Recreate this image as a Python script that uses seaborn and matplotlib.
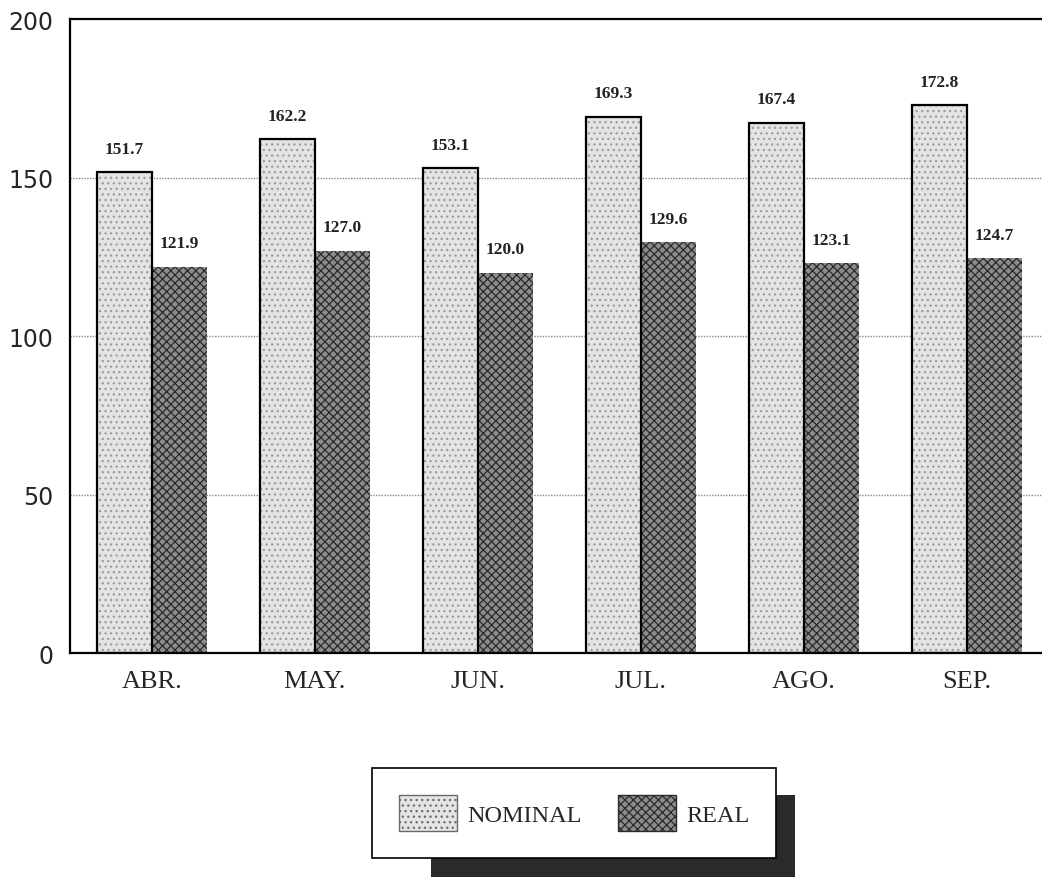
import pandas as pd
import matplotlib.pyplot as plt
import matplotlib.patches as mpatches
import seaborn as sns

months = ['ABR.', 'MAY.', 'JUN.', 'JUL.', 'AGO.', 'SEP.']
nominal = [151.7, 162.2, 153.1, 169.3, 167.4, 172.8]
real = [121.9, 127.0, 120.0, 129.6, 123.1, 124.7]
series = ['NOMINAL', 'REAL']

df = pd.DataFrame({'Mes': months * 2,
                   'Valor': nominal + real,
                   'Serie': ['NOMINAL'] * len(months) + ['REAL'] * len(months)})

sns.set_style('white')
plt.rcParams['hatch.linewidth'] = 0.9

fig = plt.figure(figsize=(10.42, 8.78), dpi=100)
ax = fig.add_axes([0.067, 0.255, 0.933, 0.722])

sns.barplot(data=df, x='Mes', y='Valor', hue='Serie', order=months, hue_order=series,
            palette=['#e4e4e4', '#8c8c8c'], width=0.675, saturation=1, legend=False, ax=ax)

# texturas: puntos para nominal, trama cruzada para real
for cont, hatch, hc in zip(ax.containers, ['...', 'xxxx'], ['#9c9c9c', '#2a2a2a']):
    for bar in cont:
        bar.set_hatch(hatch)
        bar.set_edgecolor(hc)
        bar.set_linewidth(0)
for bar in ax.containers[0]:
    ax.add_patch(mpatches.Rectangle(bar.get_xy(), bar.get_width(), bar.get_height(),
                                    fill=False, edgecolor='black', linewidth=1.6, zorder=3))

for cont in ax.containers:
    ax.bar_label(cont, fmt='%.1f', padding=11, fontsize=12.5, family='Liberation Serif',
                 fontweight='bold', color='#222222')

ax.set_ylim(0, 200)
ax.set_xlim(-0.503, 5.46)
ax.set_yticks([0, 50, 100, 150, 200])
ax.set_yticklabels(['0', '50', '100', '150', '200'], fontsize=17, family='DejaVu Sans')
ax.set_xticks(range(len(months)))
ax.set_xticklabels(months, fontsize=19, family='Liberation Serif')
ax.tick_params(axis='x', length=0, pad=12)
ax.tick_params(axis='y', length=0, pad=12)
ax.set_xlabel('')
ax.set_ylabel('')
for y in [50, 100, 150]:
    ax.axhline(y, color='#888888', linewidth=1, linestyle=(0, (1, 1)), zorder=0)
ax.spines['right'].set_visible(False)
for s in ['left', 'top', 'bottom']:
    ax.spines[s].set_color('black')
    ax.spines[s].set_linewidth(1.6)

handles = [mpatches.Patch(facecolor='#e4e4e4', edgecolor='#6a6a6a', hatch='...', label='NOMINAL'),
           mpatches.Patch(facecolor='#8c8c8c', edgecolor='#2a2a2a', hatch='xxxx', label='REAL')]
leg = fig.legend(handles=handles, loc='center', bbox_to_anchor=(0.551, 0.073), ncol=2,
                 frameon=True, fancybox=False, framealpha=1,
                 prop={'family': 'Liberation Serif', 'size': 17.5},
                 handlelength=2.4, handleheight=1.9, columnspacing=1.5, borderpad=1.1,
                 handletextpad=0.4)
leg.get_frame().set_edgecolor('black')
leg.get_frame().set_facecolor('white')
leg.get_frame().set_linewidth(1.2)
leg.set_zorder(5)

# sombra oscura del recuadro de la leyenda
fig.canvas.draw()
bb = leg.get_window_extent().transformed(fig.transFigure.inverted())
shadow = mpatches.Rectangle((bb.x0 + 0.056, bb.y0 - 0.03), bb.width - 0.038, bb.height,
                            transform=fig.transFigure, facecolor='#2a2a2a', edgecolor='none',
                            zorder=4)
fig.patches.append(shadow)

fig.savefig('out.png', dpi=100)
